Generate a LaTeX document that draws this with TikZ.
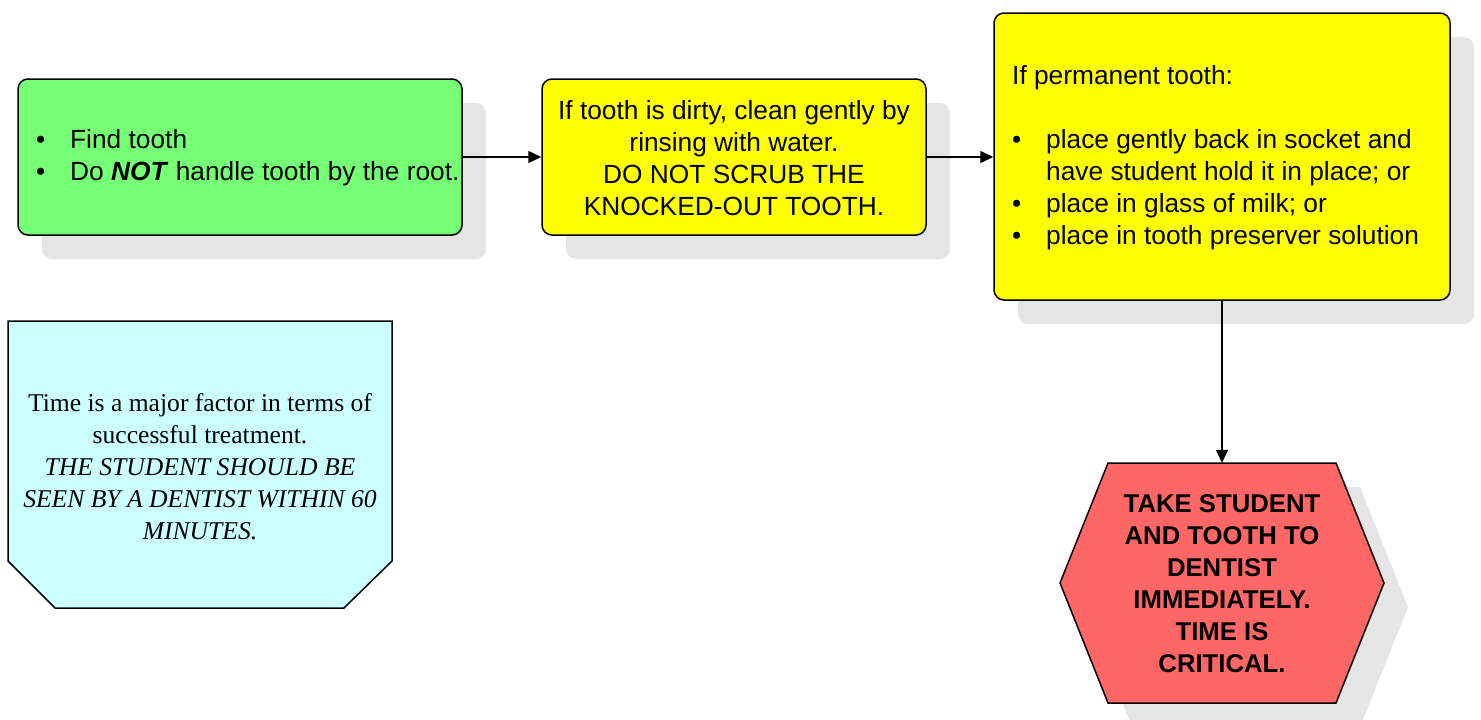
\documentclass[tikz,border=0pt]{standalone}
\usepackage{fontspec}
\setmainfont{Liberation Sans}
\newfontfamily\timesf{Liberation Serif}
\usetikzlibrary{shadows,arrows.meta}
\definecolor{boxgreen}{RGB}{116,255,116}
\definecolor{boxyellow}{RGB}{255,255,0}
\definecolor{boxcyan}{RGB}{204,255,255}
\definecolor{boxred}{RGB}{255,102,102}
\definecolor{shadowgray}{RGB}{229,229,229}
\newcommand{\bitem}[1]{\makebox[34pt][l]{\textbullet}#1}
\begin{document}
\begin{tikzpicture}[x=1pt,y=-1pt,
  txt/.style={font=\fontsize{26.3}{32}\selectfont, inner sep=0pt},
  myshadow/.style={drop shadow={shadow xshift=24pt, shadow yshift=-24pt, fill=shadowgray, opacity=1}},
  rbox/.style={draw=black, line width=1.5pt, rounded corners=10pt, inner sep=0pt, myshadow},
  arr/.style={line width=1.5pt, -{Triangle[length=13pt,width=12pt]}}
]
\useasboundingbox (0,0) rectangle (1481,720);

% boxes
\node[rbox, fill=boxgreen, minimum width=444pt, minimum height=156pt] (green) at (240,157) {};
\node[rbox, fill=boxyellow, minimum width=384pt, minimum height=156pt] (yel1) at (734,157) {};
\node[rbox, fill=boxyellow, minimum width=456pt, minimum height=287pt] (yel2) at (1222,156.5) {};

% texts
\node[txt, anchor=west, align=left] (greent) at (36,157.5) {\bitem{Find tooth}\\\bitem{Do \textbf{\textit{NOT}} handle tooth by the root.}};
\node[txt, align=center] (yel1t) at (734,158) {If tooth is dirty, clean gently by\\rinsing with water.\\DO NOT SCRUB THE\\KNOCKED-OUT TOOTH.};
\node[txt, anchor=west, align=left] (yel2t) at (1012,157.5) {If permanent tooth:\\[32pt]\bitem{place gently back in socket and}\\\makebox[34pt]{}have student hold it in place; or\\\bitem{place in glass of milk; or}\\\bitem{place in tooth preserver solution}};

% cyan note
\draw[line width=1.5pt, fill=boxcyan] (8,321) -- (392,321) -- (392,561) -- (344,608) -- (55,608) -- (8,561) -- cycle;
\node[txt, minimum width=384pt, minimum height=287pt] (cyan) at (200,464.5) {};
\node[txt, align=center, font=\timesf\fontsize{25.6}{32}\selectfont] (cyant) at (200,466.5) {Time is a major factor in terms of\\successful treatment.\\\textit{THE STUDENT SHOULD BE}\\\textit{SEEN BY A DENTIST WITHIN 60}\\\textit{MINUTES.}};

% hexagon
\draw[line width=1.5pt, fill=boxred, myshadow] (1108,463) -- (1336,463) -- (1384,583) -- (1336,703) -- (1108,703) -- (1060,583) -- cycle;
\node[txt, minimum width=228pt, minimum height=240pt] (hex) at (1222,583) {};
\node[txt, align=center, font=\bfseries\fontsize{25.7}{32}\selectfont] (hext) at (1222,583.5) {TAKE STUDENT\\AND TOOTH TO\\DENTIST\\IMMEDIATELY.\\TIME IS\\CRITICAL.};

% connectors
\draw[arr] (green.east) -- (yel1.west);
\draw[arr] (yel1.east) -- (yel1.east -| yel2.west);
\draw[arr] (yel2.south) -- (hex.north);
\end{tikzpicture}
\end{document}
